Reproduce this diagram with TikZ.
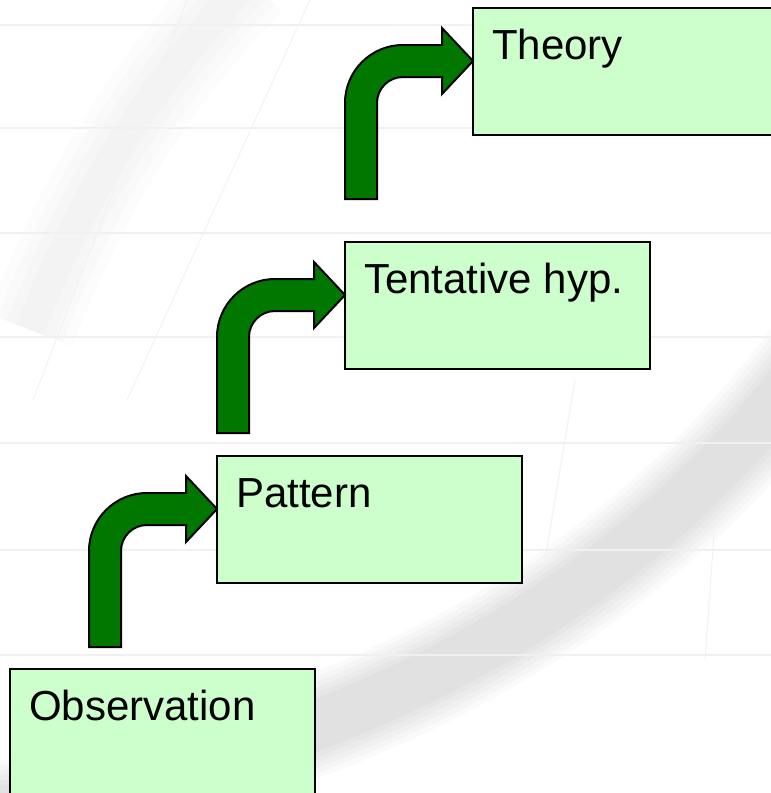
\documentclass[tikz,border=0pt]{standalone}
\usepackage{fontspec}
\setmainfont{Liberation Sans}
\usetikzlibrary{calc}
\definecolor{boxfill}{HTML}{CCFFCC}
\definecolor{arrowgreen}{RGB}{0,120,0}
\tikzset{
  box/.style={draw=black, line width=2pt, fill=boxfill, minimum width=305pt, minimum height=127pt, inner sep=0pt, outer sep=0pt, anchor=north west},
  lbl/.style={anchor=base west, inner sep=0pt, font=\fontsize{42}{50}\selectfont},
  arrowshape/.style={draw=black, line width=2pt, fill=arrowgreen, line join=miter},
  wmline/.style={draw=black!6, line width=1.5pt},
  wmthin/.style={draw=black!5, line width=1pt},
  bentarrow/.pic={
    \path[arrowshape] (-128,138) -- (-128,42)
      .. controls (-128,10) and (-102,-16) .. (-70,-16)
      -- (-31,-16) -- (-31,-33) -- (0,0) -- (-31,33) -- (-31,16) -- (-70,16)
      .. controls (-84.4,16) and (-96,27.6) .. (-96,42)
      -- (-96,138) -- cycle;
  }
}
\begin{document}
\begin{tikzpicture}[x=1pt,y=-1pt]
\useasboundingbox (0,0) rectangle (771,793);
\clip (0,0) rectangle (771,793);
% faint watermark background
\foreach \w in {100,90,80,70,60,50} {
  \draw[draw=black, opacity=0.018, line width=\w pt] (-20,815) .. controls (300,760) and (600,640) .. (810,360);
}
\foreach \w in {90,70,50,30} {
  \draw[draw=black, opacity=0.01, line width=\w pt] (30,330) .. controls (80,200) and (150,80) .. (250,-20);
}
\foreach \yy in {25,128,233,337,443,550,655} {
  \draw[wmline] (0,\yy) -- (771,\yy);
}
\draw[wmthin] (187,0) -- (33,400);
\draw[wmthin] (310,0) -- (127,400);
\draw[wmthin] (575,380) -- (545,560);
\draw[wmthin] (715,520) -- (705,660);
% boxes
\node[box] (obs) at (10,669) {};
\node[box] (pat) at (217,456) {};
\node[box] (hyp) at (345,242) {};
\node[box] (thy) at (473,8) {};
% labels
\node[lbl] (obs-t) at ($(obs.north west)+(19,51)$) {Observation};
\node[lbl] (pat-t) at ($(pat.north west)+(19,51)$) {Pattern};
\node[lbl] (hyp-t) at ($(hyp.north west)+(19,51)$) {Tentative hyp.};
\node[lbl] (thy-t) at ($(thy.north west)+(19,51)$) {Theory};
% bent arrows, tip on the left edge of the target box
\pic at ($(pat.north west)+(0,53)$) {bentarrow};
\pic at ($(hyp.north west)+(0,53)$) {bentarrow};
\pic at ($(thy.north west)+(0,53)$) {bentarrow};
\end{tikzpicture}
\end{document}
